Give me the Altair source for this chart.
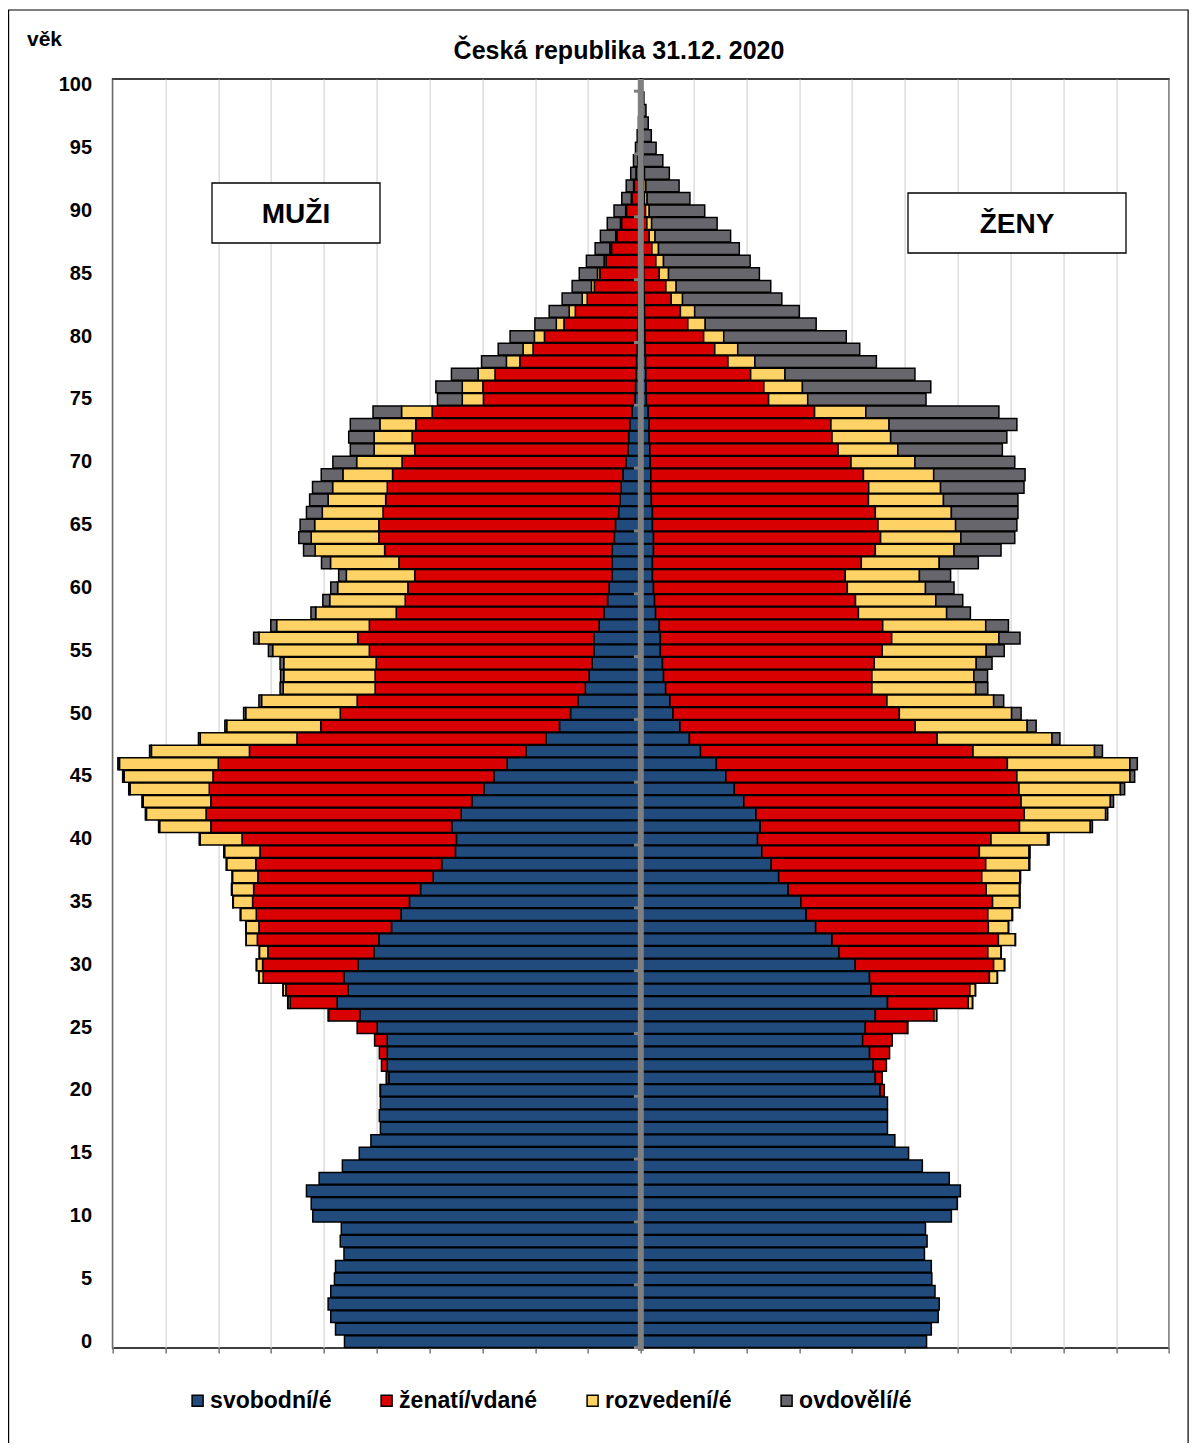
import altair as alt
import pandas as pd

# ---------------- data (thousands of persons), ages 0..100 ----------------
ages = list(range(101))
categories = ["svobodní/é", "ženatí/vdané", "rozvedení/é", "ovdovělí/é"]
colors = ["#214a7d", "#d80000", "#ffd265", "#66666c"]

men_single = [56.1, 57.8, 58.7, 59.2, 58.7, 58.0, 57.8, 56.2, 56.9, 56.7,
              62.1, 62.4, 63.3, 60.9, 56.5, 53.3, 51.1, 49.3, 49.5, 49.3,
              49.3, 47.7, 48.0, 48.0, 48.0, 49.9, 53.2, 57.5, 55.4, 56.2,
              53.5, 50.5, 49.6, 47.2, 45.4, 43.8, 41.7, 39.3, 37.7, 35.1,
              34.9, 35.8, 34.0, 32.0, 29.7, 27.8, 25.3, 21.7, 17.9, 15.4,
              13.3, 11.9, 10.5, 9.8, 9.2, 8.9, 8.9, 7.9, 7.0, 6.3,
              6.0, 5.4, 5.4, 5.4, 5.0, 4.8, 4.2, 3.9, 3.7, 3.4,
              2.8, 2.4, 2.3, 2.1, 1.7, 1.1, 1.0, 0.9, 0.8, 0.7,
              0.65, 0.55, 0.5, 0.45, 0.4, 0.35, 0.3, 0.25, 0.2, 0.15,
              0.12, 0.1, 0.08, 0.06, 0.05, 0.03, 0.02, 0.02, 0.01, 0.01, 0.01]
men_married = [0] * 20 + [
              0.05, 0.5, 1.1, 1.5, 2.4, 3.8, 5.9, 8.9, 11.8, 15.3,
              18.1, 20.1, 23.0, 25.1, 27.4, 29.7, 31.6, 33.2, 35.2, 37.0,
              40.6, 45.6, 48.3, 49.4, 52.0, 53.2, 54.7, 52.4, 47.2, 45.2,
              43.6, 41.8, 39.8, 40.5, 40.9, 42.5, 44.7, 43.5, 39.3, 38.3,
              38.1, 37.4, 40.4, 43.1, 44.6, 44.8, 44.6, 44.4, 44.3, 43.6,
              42.4, 40.4, 41.0, 40.5, 37.8, 28.7, 28.9, 26.7, 22.1, 19.7,
              17.6, 14.0, 11.9, 9.7, 8.4, 7.4, 6.3, 5.3, 4.3, 3.5,
              2.6, 1.6, 1.2, 0.8, 0.5, 0.35, 0.2, 0.12, 0.07, 0.04, 0.03]
men_divorced = [0] * 26 + [
              0.1, 0.4, 0.5, 0.8,
              1.15, 1.6, 2.1, 2.4, 2.95, 3.65, 4.1, 4.8, 5.5, 6.7,
              7.9, 9.7, 11.3, 12.8, 15.0, 16.8, 18.7, 18.55, 18.3, 17.8,
              17.9, 18.1, 17.4, 17.3, 17.5, 18.3, 18.7, 17.55, 15.25, 14.3,
              13.3, 12.95, 12.95, 13.15, 12.8, 12.15, 11.5, 10.9, 10.35, 9.4,
              8.6, 7.7, 7.2, 6.8, 5.8, 4.0, 3.9, 3.2, 2.55, 1.9,
              1.9, 1.45, 1.15, 0.95, 0.55, 0.45, 0.35, 0.3, 0.25, 0.2,
              0.15, 0.1, 0.08, 0.05, 0.04, 0.03, 0.02, 0.01, 0.01, 0, 0]
men_widowed = [0] * 27 + [
              0.05, 0.05, 0.05, 0.05, 0.05, 0.05,
              0.1, 0.1, 0.1, 0.1, 0.1, 0.1, 0.15,
              0.2, 0.2, 0.2, 0.25, 0.25, 0.3, 0.3, 0.35, 0.35, 0.35,
              0.4, 0.5, 0.6, 0.6, 0.7, 0.8, 1.0, 1.1, 0.9, 1.3,
              1.3, 1.45, 1.7, 2.2, 2.35, 2.75, 3.0, 3.5, 3.8, 4.1,
              4.5, 4.5, 4.8, 5.6, 5.4, 4.7, 5.0, 5.05, 4.7, 4.7,
              4.6, 4.05, 3.8, 3.8, 3.65, 3.45, 3.35, 2.8, 2.9, 2.5,
              2.2, 1.8, 1.4, 1.0, 0.8, 0.6, 0.45, 0.3, 0.2, 0.12, 0.1]

women_single = [54.1, 55.0, 56.3, 56.5, 55.7, 55.1, 55.0, 53.7, 54.2, 53.9,
                58.8, 59.9, 60.5, 58.4, 53.3, 50.7, 48.1, 46.7, 46.7, 46.7,
                45.3, 44.4, 44.0, 43.3, 42.0, 42.5, 44.4, 46.7, 43.6, 43.3,
                40.6, 37.5, 36.2, 33.1, 31.3, 30.3, 27.9, 26.1, 24.7, 22.9,
                22.1, 22.6, 21.8, 19.5, 17.7, 16.1, 14.3, 11.3, 9.2, 7.4,
                6.1, 5.5, 4.7, 4.3, 4.1, 3.7, 3.7, 3.5, 2.8, 2.6,
                2.4, 2.2, 2.2, 2.4, 2.4, 2.2, 2.2, 2.0, 1.9, 1.9,
                1.8, 1.7, 1.6, 1.6, 1.4, 1.05, 1.0, 0.95, 0.9, 0.85,
                0.8, 0.75, 0.7, 0.65, 0.6, 0.55, 0.5, 0.45, 0.4, 0.35,
                0.3, 0.25, 0.2, 0.15, 0.12, 0.1, 0.08, 0.06, 0.05, 0.04, 0.03]
women_married = [0] * 20 + [
                0.8, 1.3, 2.5, 3.8, 5.6, 8.0, 11.1, 15.3, 18.7, 22.7,
                26.2, 28.2, 31.5, 32.7, 34.4, 36.3, 37.5, 38.45, 40.6, 41.2,
                44.2, 49.1, 50.8, 52.5, 53.9, 55.1, 55.1, 51.6, 46.9, 44.55,
                42.85, 41.1, 39.05, 39.45, 40.1, 42.0, 43.8, 42.3, 38.4, 38.05,
                36.7, 36.5, 39.55, 42.0, 43.0, 42.7, 42.2, 41.1, 41.25, 40.25,
                38.0, 35.65, 34.6, 34.4, 31.5, 23.15, 22.3, 19.85, 15.6, 13.15,
                11.1, 8.15, 6.8, 5.1, 4.15, 2.95, 2.35, 1.65, 1.2, 0.8,
                0.6, 0.45, 0.35, 0.25, 0.15, 0.1, 0.06, 0.04, 0.03, 0.02, 0.01]
women_divorced = [0] * 25 + [
                0.05, 0.5, 0.8, 1.05, 1.5,
                2.05, 2.5, 3.2, 3.8, 4.6, 5.1, 6.3, 7.2, 8.2, 9.4,
                10.7, 13.4, 15.4, 16.9, 19.2, 21.4, 23.2, 23.0, 21.75, 21.2,
                21.25, 20.2, 19.65, 19.3, 19.3, 19.7, 20.3, 19.5, 16.7, 15.2,
                14.8, 14.05, 14.75, 14.9, 15.2, 14.7, 14.4, 14.2, 13.6, 13.3,
                12.1, 11.3, 11.1, 11.0, 9.7, 7.4, 7.3, 6.5, 5.1, 4.35,
                3.8, 3.3, 2.7, 2.15, 1.95, 1.75, 1.45, 1.25, 1.1, 0.9,
                0.7, 0.5, 0.4, 0.3, 0.2, 0.15, 0.1, 0.06, 0.05, 0.03, 0.02]
women_widowed = [0] * 26 + [
                0.02, 0.02, 0.03, 0.03,
                0.05, 0.05, 0.05, 0.05, 0.1, 0.1, 0.1, 0.15, 0.15, 0.2,
                0.3, 0.4, 0.4, 0.6, 0.8, 0.9, 1.4, 1.5, 1.5, 1.7,
                1.8, 1.9, 2.3, 2.6, 3.0, 3.4, 4.0, 4.3, 4.5, 5.1,
                5.4, 5.9, 7.4, 8.9, 10.2, 11.6, 12.6, 14.1, 15.8, 17.3,
                18.9, 19.8, 22.0, 24.2, 25.2, 22.4, 24.3, 24.6, 23.0, 23.1,
                23.2, 21.0, 19.8, 18.8, 17.9, 17.2, 16.4, 15.3, 14.3, 12.4,
                10.5, 8.1, 6.3, 4.7, 3.7, 2.55, 1.75, 1.25, 0.85, 0.5, 0.25]

y_tick_labels = list(range(0, 101, 5))
title_text = "Česká republika 31.12. 2020"

for arr in (men_single, men_married, men_divorced, men_widowed,
            women_single, women_married, women_divorced, women_widowed):
    assert len(arr) == 101, len(arr)

# ---------------- build table ----------------
rows = []
for sign, series in ((-1, [men_single, men_married, men_divorced, men_widowed]),
                     (1, [women_single, women_married, women_divorced, women_widowed])):
    cum = [0.0] * 101
    for cat, arr in zip(categories, series):
        for a in ages:
            v = arr[a]
            if v > 0:
                rows.append({"age": a, "cat": cat,
                             "x": sign * cum[a], "x2": sign * (cum[a] + v)})
            cum[a] += v
df = pd.DataFrame(rows)

W, H = 1056.4, 1269
age_domain = list(range(100, -1, -1))
yscale = alt.Scale(domain=age_domain, paddingInner=0.06, paddingOuter=0.03)
xscale = alt.Scale(domain=[-100, 100], nice=False, zero=False)

bars = alt.Chart(df).mark_bar(stroke="black", strokeWidth=1.5).encode(
    x=alt.X("x:Q", scale=xscale, title=None,
            axis=alt.Axis(values=list(range(-100, 101, 10)), labels=False,
                          grid=True, gridColor="#d4d4d4", gridWidth=1.2,
                          ticks=True, tickSize=5, tickColor="#333333",
                          tickWidth=1, domain=False)),
    x2="x2:Q",
    y=alt.Y("age:O", scale=yscale, title=None,
            axis=alt.Axis(values=y_tick_labels, ticks=False, tickSize=0,
                          domain=False, labelPadding=21, labelFontSize=20,
                          labelFontWeight="bold", labelColor="black",
                          labelFont="Liberation Sans")),
    color=alt.Color("cat:N", scale=alt.Scale(domain=categories, range=colors),
                    legend=alt.Legend(title=None, orient="none", legendX=73.5,
                                      legendY=1310, direction="horizontal",
                                      columns=4, symbolType="square",
                                      symbolSize=121, symbolStrokeColor="black",
                                      symbolStrokeWidth=1.5, labelFontSize=23,
                                      labelFontWeight="bold",
                                      labelFont="Liberation Sans",
                                      labelColor="black", labelOffset=1,
                                      columnPadding=43, padding=0)),
)

center_line = alt.Chart(pd.DataFrame({"a": [0]})).mark_rule(
    color="#808080", strokeWidth=6).encode(
    x=alt.X(datum=0), y=alt.value(0), y2=alt.value(H + 3))

marks_df = pd.DataFrame({"age": y_tick_labels})
tick_marks = alt.Chart(marks_df).mark_rule(color="#808080", strokeWidth=3).encode(
    y=alt.Y("age:O", scale=yscale, bandPosition=1, title=None),
    x=alt.X(datum=-1.3), x2=alt.X2(datum=0))

one = pd.DataFrame({"a": [0]})
frame = alt.Chart(one).mark_rect(fill=None, stroke="black", strokeWidth=1.2).encode(
    x=alt.value(-104), x2=alt.value(1075.5), y=alt.value(-69), y2=alt.value(H + 200))

box_m = alt.Chart(one).mark_rect(fill="white", stroke="black", strokeWidth=1.3).encode(
    x=alt.value(99.4), x2=alt.value(267.4), y=alt.value(104), y2=alt.value(164))
box_f = alt.Chart(one).mark_rect(fill="white", stroke="black", strokeWidth=1.3).encode(
    x=alt.value(795.4), x2=alt.value(1013.4), y=alt.value(114), y2=alt.value(174))

txt_style = dict(font="Liberation Sans", fontWeight="bold", color="black")
t_m = alt.Chart(one).mark_text(text="MUŽI", fontSize=28, align="center",
                               baseline="middle", **txt_style).encode(
    x=alt.value(183.4), y=alt.value(136))
t_f = alt.Chart(one).mark_text(text="ŽENY", fontSize=28, align="center",
                               baseline="middle", **txt_style).encode(
    x=alt.value(904.4), y=alt.value(146))
t_title = alt.Chart(one).mark_text(text=title_text, fontSize=25, align="center",
                                   baseline="alphabetic", **txt_style).encode(
    x=alt.value(506.4), y=alt.value(-20))
t_vek = alt.Chart(one).mark_text(text="věk", fontSize=21, align="left",
                                 baseline="alphabetic", **txt_style).encode(
    x=alt.value(-85.6), y=alt.value(-33))

chart = alt.layer(frame, bars, center_line, tick_marks, box_m, box_f,
                  t_m, t_f, t_title, t_vek).properties(
    width=W, height=H,
    autosize=alt.AutoSizeParams(type="none"),
    padding={"left": 104.6, "top": 71, "right": 20, "bottom": 95},
    background="white",
).configure_view(stroke="black", strokeWidth=1.5)

chart.save("out.html", embed_options={"renderer": "svg", "actions": False})
